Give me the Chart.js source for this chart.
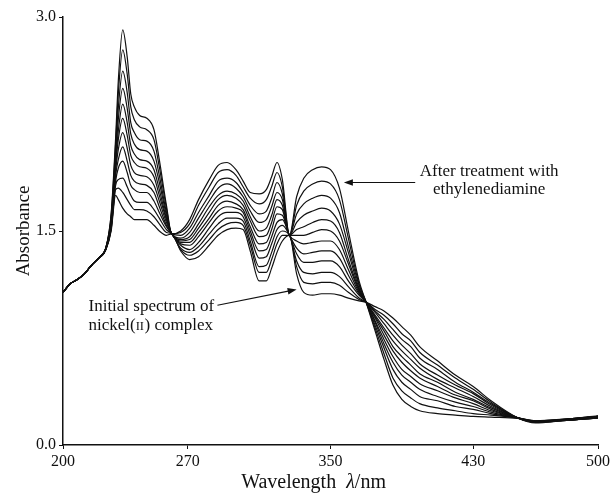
<!DOCTYPE html>
<html>
<head>
<meta charset="utf-8">
<style>
  html, body { margin: 0; padding: 0; background: #fff; }
</style>
</head>
<body>
<canvas id="spectra" width="613" height="495"></canvas>

<script src="https://cdn.jsdelivr.net/npm/chart.js"></script>
<script>
  // wavelength grid (nm), shared by every scan
  const wavelengths = [200, 204, 208, 212, 216, 220, 224, 227, 229.5, 231,
    233.5, 236, 238, 240, 243, 247, 251, 254, 258, 261,
    266, 271, 276, 282, 287, 292, 297, 301, 305, 310,
    314, 317, 320, 323, 327, 331, 335, 340, 345, 350,
    355, 360, 366, 370, 375, 380, 385, 390, 395, 400,
    410, 420, 430, 440, 455, 465, 480, 500];

  // absorbance, initial nickel(II) complex -> after ethylenediamine
  const scan00 = [1.07,1.13,1.16,1.20,1.26,1.31,1.37,1.50,1.75,1.72, 1.66,1.62,1.60,1.58,1.58,1.58,1.54,1.50,1.47,1.48, 1.36,1.30,1.32,1.40,1.47,1.51,1.52,1.51,1.36,1.15, 1.15,1.24,1.35,1.43,1.47,1.20,1.07,1.05,1.06,1.06, 1.05,1.03,1.01,1.00,0.97,0.94,0.89,0.83,0.77,0.69, 0.59,0.49,0.41,0.31,0.19,0.155,0.17,0.19];
  const scan01 = [1.07,1.13,1.16,1.20,1.26,1.31,1.37,1.51,1.79,1.80, 1.77,1.72,1.68,1.65,1.65,1.64,1.60,1.55,1.49,1.48, 1.37,1.33,1.36,1.44,1.51,1.55,1.56,1.54,1.40,1.21, 1.21,1.30,1.41,1.47,1.47,1.25,1.14,1.13,1.14,1.14, 1.12,1.07,1.02,1.00,0.95,0.91,0.85,0.78,0.73,0.65, 0.56,0.47,0.39,0.30,0.19,0.16,0.17,0.19];
  const scan02 = [1.07,1.13,1.16,1.20,1.26,1.31,1.37,1.52,1.82,1.86, 1.87,1.81,1.75,1.71,1.70,1.70,1.65,1.59,1.51,1.48, 1.38,1.35,1.39,1.48,1.55,1.59,1.59,1.57,1.43,1.25, 1.26,1.35,1.46,1.50,1.47,1.29,1.21,1.20,1.21,1.21, 1.18,1.11,1.03,1.00,0.94,0.88,0.81,0.74,0.69,0.61, 0.53,0.44,0.37,0.29,0.19,0.16,0.17,0.19];
  const scan03 = [1.07,1.13,1.16,1.20,1.26,1.31,1.37,1.53,1.85,1.94, 1.99,1.91,1.82,1.79,1.77,1.77,1.71,1.63,1.53,1.48, 1.40,1.37,1.42,1.52,1.60,1.63,1.63,1.60,1.47,1.31, 1.32,1.41,1.51,1.54,1.47,1.34,1.28,1.28,1.29,1.29, 1.25,1.15,1.05,1.00,0.93,0.85,0.77,0.70,0.64,0.57, 0.49,0.42,0.36,0.28,0.19,0.16,0.17,0.19];
  const scan04 = [1.07,1.13,1.16,1.20,1.26,1.31,1.37,1.54,1.89,2.00, 2.09,1.99,1.89,1.85,1.83,1.82,1.77,1.67,1.54,1.48, 1.41,1.40,1.46,1.56,1.64,1.67,1.66,1.63,1.50,1.36, 1.37,1.46,1.56,1.58,1.47,1.38,1.34,1.35,1.36,1.36, 1.31,1.19,1.06,1.00,0.91,0.82,0.73,0.66,0.60,0.54, 0.46,0.40,0.34,0.27,0.19,0.16,0.175,0.195];
  const scan05 = [1.07,1.13,1.16,1.20,1.26,1.31,1.37,1.55,1.92,2.07, 2.19,2.08,1.96,1.91,1.89,1.88,1.82,1.71,1.56,1.48, 1.42,1.42,1.49,1.59,1.68,1.71,1.69,1.65,1.53,1.41, 1.42,1.51,1.62,1.61,1.47,1.43,1.41,1.42,1.43,1.43, 1.37,1.23,1.07,1.00,0.90,0.80,0.69,0.62,0.56,0.50, 0.44,0.37,0.32,0.26,0.19,0.165,0.175,0.195];
  const scan06 = [1.07,1.13,1.16,1.20,1.26,1.31,1.38,1.56,1.95,2.14, 2.29,2.17,2.03,1.98,1.95,1.94,1.88,1.75,1.58,1.48, 1.43,1.44,1.52,1.63,1.72,1.75,1.73,1.68,1.57,1.46, 1.47,1.56,1.67,1.65,1.47,1.47,1.47,1.49,1.51,1.50, 1.43,1.27,1.08,1.00,0.89,0.77,0.66,0.58,0.52,0.47, 0.41,0.35,0.31,0.25,0.19,0.165,0.175,0.20];
  const scan07 = [1.07,1.13,1.16,1.20,1.26,1.31,1.38,1.57,1.98,2.20, 2.39,2.26,2.10,2.04,2.00,1.99,1.93,1.79,1.59,1.48, 1.44,1.46,1.55,1.67,1.75,1.78,1.76,1.71,1.60,1.50, 1.52,1.61,1.72,1.68,1.47,1.51,1.53,1.56,1.58,1.57, 1.49,1.30,1.09,1.00,0.87,0.74,0.62,0.53,0.48,0.43, 0.38,0.33,0.29,0.24,0.19,0.165,0.175,0.20];
  const scan08 = [1.07,1.13,1.16,1.20,1.26,1.31,1.38,1.58,2.02,2.28, 2.50,2.36,2.18,2.11,2.07,2.06,1.99,1.84,1.61,1.48, 1.45,1.49,1.59,1.71,1.80,1.83,1.80,1.74,1.64,1.56, 1.58,1.67,1.77,1.72,1.47,1.56,1.61,1.64,1.66,1.64, 1.55,1.35,1.10,1.00,0.86,0.71,0.58,0.49,0.44,0.39, 0.34,0.30,0.27,0.23,0.19,0.165,0.175,0.20];
  const scan09 = [1.07,1.13,1.16,1.20,1.26,1.31,1.38,1.59,2.06,2.36, 2.62,2.47,2.26,2.19,2.14,2.13,2.06,1.89,1.63,1.48, 1.47,1.52,1.63,1.75,1.85,1.87,1.84,1.77,1.68,1.62, 1.64,1.73,1.84,1.76,1.47,1.62,1.69,1.73,1.75,1.73, 1.63,1.39,1.12,1.00,0.84,0.68,0.53,0.44,0.39,0.34, 0.31,0.27,0.25,0.22,0.19,0.17,0.18,0.20];
  const scan10 = [1.07,1.13,1.16,1.20,1.26,1.31,1.38,1.61,2.11,2.46, 2.77,2.60,2.37,2.28,2.23,2.21,2.14,1.95,1.66,1.48, 1.49,1.55,1.68,1.81,1.91,1.93,1.89,1.81,1.73,1.69, 1.72,1.81,1.91,1.81,1.47,1.68,1.78,1.83,1.85,1.83, 1.72,1.45,1.13,1.00,0.82,0.64,0.47,0.38,0.33,0.29, 0.26,0.24,0.22,0.21,0.19,0.17,0.18,0.20];
  const scan11 = [1.07,1.13,1.16,1.20,1.26,1.31,1.38,1.62,2.15,2.55, 2.91,2.72,2.46,2.37,2.31,2.29,2.21,2.00,1.68,1.48, 1.50,1.58,1.72,1.86,1.96,1.98,1.93,1.85,1.77,1.76, 1.79,1.88,1.98,1.86,1.47,1.74,1.87,1.93,1.95,1.93, 1.80,1.50,1.15,1.00,0.80,0.60,0.42,0.32,0.27,0.24, 0.22,0.21,0.20,0.195,0.187,0.17,0.18,0.205];

  const scans = [scan00, scan01, scan02, scan03, scan04, scan05, scan06, scan07, scan08, scan09, scan10, scan11];

  const xTicks = [200, 270, 350, 430, 500];
  const yTicks = [0, 1.5, 3.0];

  const INK = '#111';
  const SERIF = '"Liberation Serif", "Times New Roman", serif';
  Chart.defaults.font.family = SERIF;
  Chart.defaults.color = INK;

  function arrow(ctx, x1, y1, x2, y2) {
    const a = Math.atan2(y2 - y1, x2 - x1);
    ctx.beginPath();
    ctx.moveTo(x1, y1);
    ctx.lineTo(x2 - 6 * Math.cos(a), y2 - 6 * Math.sin(a));
    ctx.stroke();
    ctx.beginPath();
    ctx.moveTo(x2, y2);
    ctx.lineTo(x2 - 9 * Math.cos(a) + 3.2 * Math.sin(a), y2 - 9 * Math.sin(a) - 3.2 * Math.cos(a));
    ctx.lineTo(x2 - 9 * Math.cos(a) - 3.2 * Math.sin(a), y2 - 9 * Math.sin(a) + 3.2 * Math.cos(a));
    ctx.closePath();
    ctx.fill();
  }

  // labels, arrows and the x axis title
  const labelsPlugin = {
    id: 'labels',
    afterDraw(chart) {
      const { ctx, chartArea } = chart;
      const x = chart.scales.x, y = chart.scales.y;
      ctx.save();
      ctx.fillStyle = INK;
      ctx.strokeStyle = INK;
      ctx.lineWidth = 1.1;

      ctx.font = '17px ' + SERIF;
      ctx.textAlign = 'center';
      ctx.textBaseline = 'alphabetic';
      ctx.fillText('After treatment with', x.getPixelForValue(439), y.getPixelForValue(1.885));
      ctx.fillText('ethylenediamine', x.getPixelForValue(439), y.getPixelForValue(1.76));
      arrow(ctx, x.getPixelForValue(397.5), y.getPixelForValue(1.84), x.getPixelForValue(357.5), y.getPixelForValue(1.84));

      ctx.textAlign = 'left';
      const lx = x.getPixelForValue(214.3);
      ctx.fillText('Initial spectrum of', lx, y.getPixelForValue(0.94));
      let cx = lx;
      const by = y.getPixelForValue(0.805);
      ctx.fillText('nickel(', cx, by);
      cx += ctx.measureText('nickel(').width;
      ctx.font = '12.5px ' + SERIF;
      ctx.fillText('II', cx, by);
      cx += ctx.measureText('II').width + 0.5;
      ctx.font = '17px ' + SERIF;
      ctx.fillText(') complex', cx, by);
      arrow(ctx, x.getPixelForValue(286.6), y.getPixelForValue(0.98), x.getPixelForValue(331), y.getPixelForValue(1.09));

      // x axis title with italic lambda
      const parts = [['Wavelength  ', 'normal'], ['λ', 'italic'], ['/nm', 'normal']];
      let total = 0;
      parts.forEach(p => { ctx.font = p[1] + ' 20px ' + SERIF; total += ctx.measureText(p[0]).width; });
      let tx = x.getPixelForValue(340.5) - total / 2;
      const ty = chartArea.bottom + 43;
      ctx.textAlign = 'left';
      parts.forEach(p => {
        ctx.font = p[1] + ' 20px ' + SERIF;
        ctx.fillText(p[0], tx, ty);
        tx += ctx.measureText(p[0]).width;
      });
      ctx.restore();
    }
  };

  const ctx = document.getElementById('spectra').getContext('2d');
  new Chart(ctx, {
    type: 'line',
    data: {
      datasets: scans.map(s => ({
        data: s.map((v, i) => ({ x: wavelengths[i], y: v })),
        borderColor: INK,
        borderWidth: 1.2,
        pointRadius: 0,
        fill: false,
        cubicInterpolationMode: 'monotone'
      }))
    },
    options: {
      responsive: false,
      animation: false,
      devicePixelRatio: 1,
      layout: { padding: { top: 17, right: 15, left: 0, bottom: 0 } },
      plugins: { legend: { display: false }, tooltip: { enabled: false } },
      scales: {
        x: {
          type: 'linear',
          min: 200,
          max: 500,
          afterBuildTicks: s => { s.ticks = xTicks.map(v => ({ value: v })); },
          afterFit: s => { s.height = 50; },
          grid: { drawOnChartArea: false, tickLength: 4, color: INK },
          border: { color: INK, width: 1.5 },
          ticks: {
            color: INK,
            font: { size: 16 },
            padding: 3,
            maxRotation: 0,
            autoSkip: false,
            callback: v => String(v)
          }
        },
        y: {
          min: 0,
          max: 3,
          afterBuildTicks: s => { s.ticks = yTicks.map(v => ({ value: v })); },
          afterFit: s => { s.width = 63; },
          grid: { drawOnChartArea: false, tickLength: 4, color: INK },
          border: { color: INK, width: 1.5 },
          ticks: {
            color: INK,
            font: { size: 16 },
            padding: 3,
            callback: v => Number(v).toFixed(1)
          },
          title: {
            display: true,
            text: 'Absorbance',
            color: INK,
            font: { size: 19 },
            padding: { top: 13, bottom: 0 }
          }
        }
      }
    },
    plugins: [labelsPlugin]
  });
</script>
</body>
</html>
